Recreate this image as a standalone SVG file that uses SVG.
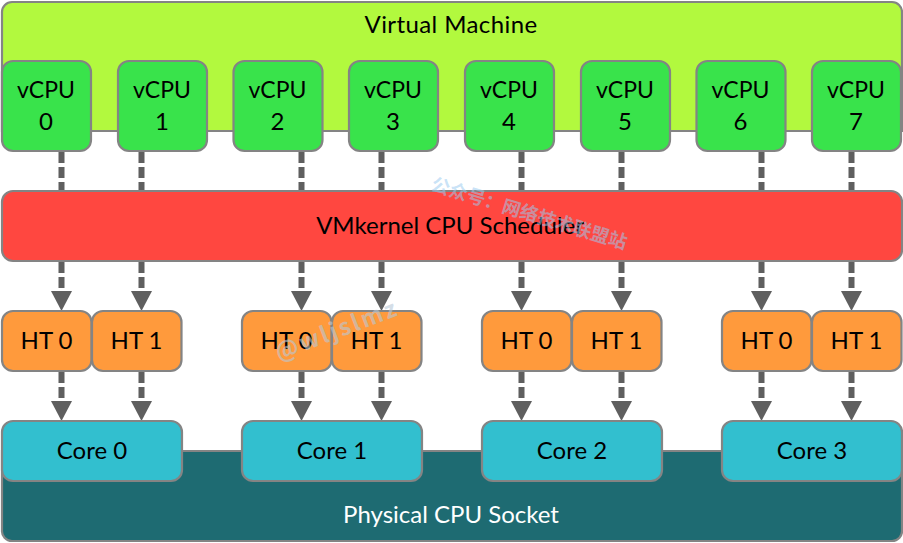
<svg xmlns="http://www.w3.org/2000/svg" width="903" height="543" viewBox="0 0 903 543">
<style>
.n{stroke:#848484;stroke-width:2.2}
.t{font-family:"Lato","Open Sans","Liberation Sans",sans-serif;font-size:24px;text-anchor:middle;fill:#000}
.s{font-size:23px}
.v{fill:#39e34b}.h{fill:#ff9a3c}.c{fill:#32bfcf}
.d{stroke:#5f5f5f;stroke-width:6;stroke-dasharray:11 4;fill:none}
.a{fill:#5f5f5f}
.w{font-family:"Noto Sans CJK SC","Noto Sans",sans-serif;font-weight:700}
</style>
<defs>
<rect id="vb" class="n v" width="89" height="90" rx="11"/>
<rect id="hb" class="n h" width="89.500" height="60" rx="11"/>
<rect id="cb" class="n c" width="180" height="60" rx="11"/>
<polygon id="ah" class="a" points="-10.500,-20 10.500,-20 0,0"/>
</defs>
<g id="vm"><path class="n" fill="#b2f93e" d="M2 131V12A10 10 0 0 1 12 2H892A10 10 0 0 1 902 12V131Z"/><text class="t" x="451" y="33" letter-spacing=".4">Virtual Machine</text></g>
<g id="socket"><path class="n" fill="#1e6b72" d="M2 451H902V530A10 10 0 0 1 892 541H12A10 10 0 0 1 2 530Z"/><text class="t" x="451" y="523" style="fill:#fff">Physical CPU Socket</text></g>
<g id="connectors">
<path class="d" d="M61.500 152V191M61.500 262V292M61.500 372V402"/><use href="#ah" x="61.500" y="311"/><use href="#ah" x="61.500" y="421"/>
<path class="d" d="M141.500 152V191M141.500 262V292M141.500 372V402"/><use href="#ah" x="141.500" y="311"/><use href="#ah" x="141.500" y="421"/>
<path class="d" d="M301.500 152V191M301.500 262V292M301.500 372V402"/><use href="#ah" x="301.500" y="311"/><use href="#ah" x="301.500" y="421"/>
<path class="d" d="M381.500 152V191M381.500 262V292M381.500 372V402"/><use href="#ah" x="381.500" y="311"/><use href="#ah" x="381.500" y="421"/>
<path class="d" d="M521.500 152V191M521.500 262V292M521.500 372V402"/><use href="#ah" x="521.500" y="311"/><use href="#ah" x="521.500" y="421"/>
<path class="d" d="M621.500 152V191M621.500 262V292M621.500 372V402"/><use href="#ah" x="621.500" y="311"/><use href="#ah" x="621.500" y="421"/>
<path class="d" d="M761.500 152V191M761.500 262V292M761.500 372V402"/><use href="#ah" x="761.500" y="311"/><use href="#ah" x="761.500" y="421"/>
<path class="d" d="M851.500 152V191M851.500 262V292M851.500 372V402"/><use href="#ah" x="851.500" y="311"/><use href="#ah" x="851.500" y="421"/>
</g>
<g id="vcpu0"><use href="#vb" x="2" y="61"/><text class="t s" x="46" y="98">vCPU</text><text class="t" x="46" y="130">0</text></g>
<g id="vcpu1"><use href="#vb" x="118" y="61"/><text class="t s" x="162" y="98">vCPU</text><text class="t" x="162" y="130">1</text></g>
<g id="vcpu2"><use href="#vb" x="233.500" y="61"/><text class="t s" x="277.500" y="98">vCPU</text><text class="t" x="277.500" y="130">2</text></g>
<g id="vcpu3"><use href="#vb" x="349" y="61"/><text class="t s" x="393" y="98">vCPU</text><text class="t" x="393" y="130">3</text></g>
<g id="vcpu4"><use href="#vb" x="465" y="61"/><text class="t s" x="509" y="98">vCPU</text><text class="t" x="509" y="130">4</text></g>
<g id="vcpu5"><use href="#vb" x="581" y="61"/><text class="t s" x="625" y="98">vCPU</text><text class="t" x="625" y="130">5</text></g>
<g id="vcpu6"><use href="#vb" x="696.500" y="61"/><text class="t s" x="740.500" y="98">vCPU</text><text class="t" x="740.500" y="130">6</text></g>
<g id="vcpu7"><use href="#vb" x="812" y="61"/><text class="t s" x="856" y="98">vCPU</text><text class="t" x="856" y="130">7</text></g>
<g id="scheduler"><rect class="n" fill="#ff4740" x="2" y="191" width="900" height="70" rx="11"/><text class="t" x="450" y="234">VMkernel CPU Scheduler</text></g>
<g id="ht00"><use href="#hb" x="2" y="311"/><text class="t" x="46.500" y="349">HT 0</text></g>
<g id="ht01"><use href="#hb" x="92" y="311"/><text class="t" x="136.500" y="349">HT 1</text></g>
<g id="ht10"><use href="#hb" x="242" y="311"/><text class="t" x="286.500" y="349">HT 0</text></g>
<g id="ht11"><use href="#hb" x="332" y="311"/><text class="t" x="376.500" y="349">HT 1</text></g>
<g id="ht20"><use href="#hb" x="482" y="311"/><text class="t" x="526.500" y="349">HT 0</text></g>
<g id="ht21"><use href="#hb" x="572" y="311"/><text class="t" x="616.500" y="349">HT 1</text></g>
<g id="ht30"><use href="#hb" x="722" y="311"/><text class="t" x="766.500" y="349">HT 0</text></g>
<g id="ht31"><use href="#hb" x="812" y="311"/><text class="t" x="856.500" y="349">HT 1</text></g>
<g id="core0"><use href="#cb" x="2" y="421"/><text class="t" x="92" y="459">Core 0</text></g>
<g id="core1"><use href="#cb" x="242" y="421"/><text class="t" x="332" y="459">Core 1</text></g>
<g id="core2"><use href="#cb" x="482" y="421"/><text class="t" x="572" y="459">Core 2</text></g>
<g id="core3"><use href="#cb" x="722" y="421"/><text class="t" x="812" y="459">Core 3</text></g>
<g id="watermark">
<text class="w" transform="translate(430 190) rotate(17)" font-size="18.500" fill="#9ccbf0" fill-opacity=".55">公众号：网络技术联盟站</text>
<text class="w" transform="translate(279 361) rotate(-21)" font-size="23" fill="#b8c8d8" fill-opacity=".6" letter-spacing="2.500">@wljslmz</text>
</g>
</svg>
